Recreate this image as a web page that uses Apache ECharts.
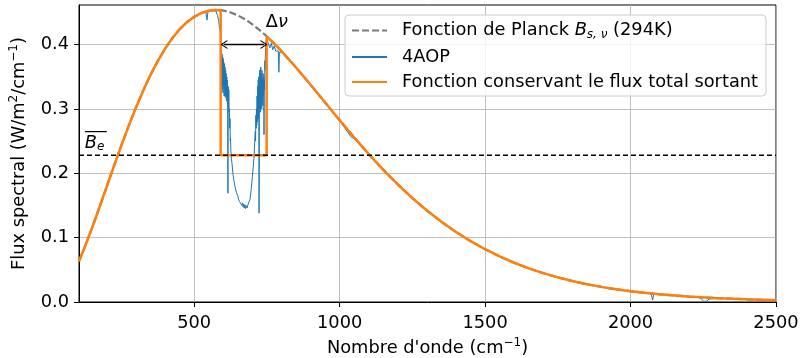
<!DOCTYPE html>
<html><head><meta charset="utf-8">
<script src="https://cdn.jsdelivr.net/npm/echarts@6/dist/echarts.min.js"></script>
<style>html,body{margin:0;padding:0;background:#fff}#c{width:804px;height:358px}</style>
</head><body><div id="c"></div>
<script>
// Planck curve (294 K)
const planckNu = [104,125,150,175,200,225,250,275,300,325,350,375,400,425,450,475,500,525,550,575,591,600,625,650,675,700,725,749,750,775,800,850,900,950,1000,1050,1100,1150,1200,1250,1300,1350,1400,1450,1500,1550,1600,1650,1700,1750,1800,1850,1900,1950,2000,2050,2100,2200,2300,2400,2500];
const planckFlux = [0.0634,0.0866,0.1165,0.1480,0.1802,0.2123,0.2437,0.2739,0.3024,0.3288,0.3530,0.3747,0.3937,0.4101,0.4238,0.4348,0.4432,0.4491,0.4526,0.4538,0.4534,0.4529,0.4500,0.4454,0.4392,0.4315,0.4225,0.4129,0.4125,0.4015,0.3898,0.3644,0.3375,0.3100,0.2825,0.2556,0.2298,0.2054,0.1826,0.1614,0.1421,0.1246,0.1087,0.0946,0.0820,0.0708,0.0610,0.0523,0.0448,0.0383,0.0326,0.0277,0.0235,0.0199,0.0168,0.0142,0.0119,0.0084,0.0059,0.0041,0.0028];
// 4AOP spectrum
const aopNu = [104,125,150,175,200,225,250,275,300,325,350,375,400,425,450,475,500,525,540,544,547,555,565,575,580,584,587,
  590,591,592,593,594,595,596,597,598,599,600,601,602,603,604,605,606,607,608,609,610,611,612,613,614,615,616,617,618,619,620,621,622,623,624,625,626,627,628,
  630,633,636,640,645,650,652,654,656,658,660,662,664,666,668,670,672,674,676,678,680,682,684,686,688,692,696,700,703,706,708,
  710,711,712,713,714,715,716,717,718,719,720,721,722,723,724,725,726,727,728,729,730,731,732,733,734,735,736,737,738,739,740,741,742,743,744,745,746,747,748,749,
  752,756,760,765,770,775,780,785,789,791,793,800,850,900,950,1000,1040,1050,1100,1150,1200,1250,1300,1350,1400,1450,1500,1550,1600,1650,1700,1750,1800,1850,1900,1930,1935,1940,1950,2000,2050,2070,2076,2080,2100,2200,2235,2245,2252,2260,2270,2300,2400,2500];
const aopFlux = [0.0634,0.0868,0.1162,0.1484,0.1798,0.2126,0.2434,0.2742,0.3020,0.3292,0.3526,0.3750,0.3934,0.4104,0.4236,0.4350,0.4430,0.4492,0.4512,0.4380,0.4505,0.4520,0.4530,0.4520,0.4450,0.4380,0.4250,
  0.4200,0.3950,0.4050,0.3600,0.3900,0.3350,0.3850,0.3300,0.3800,0.3250,0.3780,0.3350,0.3720,0.3200,0.3700,0.3300,0.3650,0.3180,0.3600,0.3220,0.3550,0.3120,0.3500,0.3180,0.3450,0.3050,0.1690,0.3350,0.3000,0.3300,0.2950,0.3000,0.2700,0.2850,0.2500,0.2550,0.2350,0.2380,0.2220,
  0.2150,0.2000,0.1900,0.1800,0.1700,0.1650,0.1600,0.1620,0.1560,0.1590,0.1530,0.1560,0.1500,0.1540,0.1480,0.1520,0.1460,0.1510,0.1450,0.1500,0.1480,0.1460,0.1500,0.1470,0.1520,0.1600,0.1750,0.1950,0.2100,0.2280,0.2500,
  0.2650,0.2500,0.2900,0.2700,0.3000,0.2750,0.3200,0.2800,0.3350,0.2900,0.3450,0.2850,0.3500,0.1380,0.3000,0.3600,0.3000,0.3550,0.2950,0.3650,0.3100,0.3500,0.3000,0.3600,0.3150,0.3450,0.3050,0.3550,0.3200,0.3500,0.2600,0.3450,0.3300,0.3750,0.3600,0.3950,0.3800,0.4050,0.3950,0.4100,
  0.4050,0.4000,0.3950,0.4020,0.3920,0.3980,0.3900,0.3930,0.3900,0.3570,0.3880,0.3880,0.3636,0.3370,0.3095,0.2818,0.2560,0.2540,0.2292,0.2050,0.1824,0.1612,0.1420,0.1244,0.1086,0.0945,0.0819,0.0707,0.0609,0.0522,0.0448,0.0382,0.0326,0.0276,0.0235,0.0200,0.0180,0.0205,0.0198,0.0168,0.0141,0.0131,0.0030,0.0127,0.0119,0.0084,0.0072,0.0040,0.0010,0.0012,0.0045,0.0059,0.0041,0.0028];
// mean emission level and band edges
const beValue = 0.228;
const bandLow = 591;
const bandHigh = 749;
const xTicks = [500,1000,1500,2000,2500];
const yTicks = [0,0.1,0.2,0.3,0.4];

const F = 'DejaVu Sans';
const FS = 17.8;
const planckData = planckNu.map((v,i)=>[v,planckFlux[i]]);
const aopData = aopNu.map((v,i)=>[v,aopFlux[i]]);
const conservData = [];
planckNu.forEach((v,i)=>{
  if (v < bandLow || v > bandHigh) conservData.push([v,planckFlux[i]]);
  else if (v === bandLow) { conservData.push([v,planckFlux[i]]); conservData.push([v,beValue]); }
  else if (v === bandHigh) { conservData.push([v,beValue]); conservData.push([v,planckFlux[i]]); }
});

const nP = 'Fonction de Planck B (294K)';
const nA = '4AOP';
const nC = 'Fonction conservant le flux total sortant';
const chevron = 'path://M0,10 L5,0 L10,10 L8.6,10 L5,2.6 L1.4,10 Z';

const chart = echarts.init(document.getElementById('c'), null, {renderer:'canvas'});
chart.setOption({
  animation:false,
  backgroundColor:'#fff',
  textStyle:{fontFamily:F},
  grid:{left:79,right:28,top:5,bottom:56,outerBoundsMode:'none',containLabel:false,show:true,borderColor:'#000',borderWidth:1,backgroundColor:'transparent'},
  legend:{
    orient:'vertical', left:345, top:15,
    data:[nP,nA,nC],
    itemWidth:35, itemHeight:14, itemGap:7,
    padding:[5,8,5,6],
    itemStyle:{opacity:0},
    backgroundColor:'rgba(255,255,255,0.8)', borderColor:'#cccccc', borderWidth:1, borderRadius:4,
    formatter:function(n){
      if(n===nP) return '{g|}{t|Fonction de Planck }{i|B}{s|s, ν}{t| (294K)}';
      return '{g|}{t|'+n+'}';
    },
    textStyle:{fontFamily:F,fontSize:FS,color:'#000',
      rich:{
        g:{width:10,lineHeight:21},
        t:{fontFamily:F,fontSize:FS,color:'#000',lineHeight:21},
        i:{fontFamily:F,fontSize:FS,fontStyle:'italic',color:'#000',lineHeight:21},
        s:{fontFamily:F,fontSize:12,fontStyle:'italic',color:'#000',lineHeight:21,verticalAlign:'bottom',padding:[9,0,0,0]}
      }}
  },
  xAxis:{
    type:'value', min:104, max:2500,
    name:'{t|Nombre d\'onde (cm}{u|−1}{t|)}', nameLocation:'middle', nameGap:33,
    nameTextStyle:{rich:{t:{fontFamily:F,fontSize:FS,color:'#000',lineHeight:22},u:{fontFamily:F,fontSize:12,color:'#000',verticalAlign:'top',lineHeight:22,padding:[0,0,8,0]}}},
    axisLine:{show:true,onZero:false,lineStyle:{color:'#000',width:1}},
    axisTick:{show:true,length:5,customValues:xTicks,lineStyle:{color:'#000'}},
    axisLabel:{customValues:xTicks,fontFamily:F,fontSize:FS,color:'#000',margin:12,formatter:v=>String(v)},
    splitLine:{show:true,lineStyle:{color:'#b0b0b0',width:0.8}}
  },
  yAxis:{
    type:'value', min:0, max:0.4615,
    name:'{t|Flux spectral (W/m}{u|2}{t|/cm}{u|−1}{t|)}', nameLocation:'middle', nameGap:49, nameRotate:90,
    nameTextStyle:{rich:{t:{fontFamily:F,fontSize:FS,color:'#000',lineHeight:22},u:{fontFamily:F,fontSize:12,color:'#000',verticalAlign:'top',lineHeight:22,padding:[0,0,8,0]}}},
    axisLine:{show:true,onZero:false,lineStyle:{color:'#000',width:1}},
    axisTick:{show:true,length:5,customValues:yTicks,lineStyle:{color:'#000'}},
    axisLabel:{customValues:yTicks,fontFamily:F,fontSize:FS,color:'#000',margin:10,formatter:v=>v.toFixed(1)},
    splitLine:{show:true,lineStyle:{color:'#b0b0b0',width:0.8}}
  },
  series:[
    {name:nP,type:'line',data:planckData,symbol:'none',z:2,color:'#7a7a7a',
     lineStyle:{color:'#7a7a7a',width:2.2,type:[7,3]}},
    {name:nA,type:'line',data:aopData,symbol:'none',z:3,color:'#1f77b4',
     lineStyle:{color:'#1f77b4',width:1}},
    {name:nC,type:'line',data:conservData,symbol:'none',z:4,color:'#ff7f0e',
     lineStyle:{color:'#ff7f0e',width:2.5}},
    {name:'Be',type:'line',data:[[104,beValue],[2500,beValue]],symbol:'none',z:5,color:'#000',
     lineStyle:{color:'#000',width:1.3,type:[5,3]},
     markLine:{silent:true,symbol:[chevron,chevron],symbolSize:[9,7],
       lineStyle:{color:'#000',width:1.3,type:'solid'},label:{show:false},
       data:[[{coord:[602,0.4]},{coord:[740,0.4]}]]},
     markPoint:{silent:true,symbol:'circle',symbolSize:0,
       data:[
         {coord:[784,0.434],label:{show:true,position:'inside',formatter:'{d|Δ}{n|ν}',
           rich:{d:{fontFamily:F,fontSize:FS,color:'#000'},n:{fontFamily:F,fontSize:FS,fontStyle:'italic',color:'#000'}}}},
         {coord:[124,0.25],label:{show:true,position:'right',distance:0,formatter:'{o|}\n{b|B}{e|e}',
           rich:{o:{width:22,height:1.2,backgroundColor:'#000',lineHeight:4},
                 b:{fontFamily:F,fontSize:FS,fontStyle:'italic',color:'#000',lineHeight:19,verticalAlign:'bottom'},
                 e:{fontFamily:F,fontSize:12,fontStyle:'italic',color:'#000',lineHeight:19,verticalAlign:'bottom',padding:[6,0,0,0]}}}}
       ]}}
  ]
});
</script></body></html>
